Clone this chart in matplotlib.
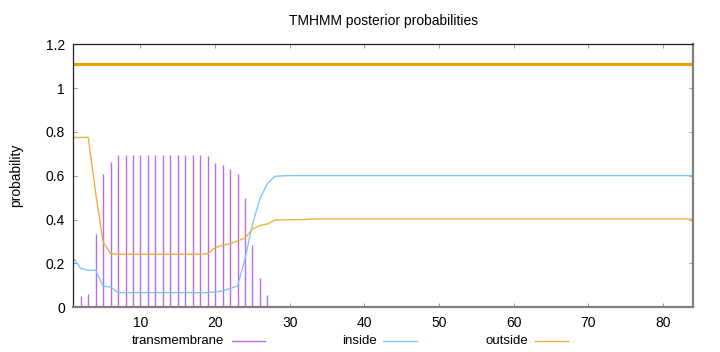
import matplotlib
matplotlib.use("Agg")
import matplotlib.pyplot as plt
from matplotlib.lines import Line2D
import numpy as np

plt.rcParams['font.family'] = ['Liberation Sans', 'DejaVu Sans']

positions = list(range(1, 85))

# transmembrane posterior probability (impulses), residues 1..27, then 0
tm_head = [0.0, 0.05, 0.062, 0.333, 0.607, 0.663, 0.693, 0.693, 0.693, 0.693,
           0.693, 0.693, 0.693, 0.693, 0.693, 0.693, 0.693, 0.693, 0.69, 0.66,
           0.648, 0.633, 0.606, 0.50, 0.283, 0.132, 0.058]
transmembrane = tm_head + [0.0] * (84 - len(tm_head))

inside_head = [0.225, 0.177, 0.169, 0.169, 0.096, 0.093, 0.067, 0.067, 0.067, 0.067,
               0.067, 0.067, 0.067, 0.067, 0.067, 0.067, 0.067, 0.067, 0.067, 0.070,
               0.075, 0.085, 0.098, 0.22, 0.38, 0.496, 0.565, 0.598, 0.600, 0.601]
inside = inside_head + [0.601] * (84 - len(inside_head))

outside_head = [0.775, 0.775, 0.775, 0.52, 0.298, 0.245, 0.242, 0.242, 0.242, 0.242,
                0.242, 0.242, 0.242, 0.242, 0.242, 0.242, 0.242, 0.242, 0.245, 0.272,
                0.283, 0.290, 0.303, 0.316, 0.357, 0.373, 0.380, 0.398, 0.399, 0.399,
                0.400, 0.401, 0.403]
outside = outside_head + [0.403] * (84 - len(outside_head))

# predicted topology line (outside for whole sequence)
topology_level = 1.11
topology_x = [1, 84]

xticks = [10, 20, 30, 40, 50, 60, 70, 80]
yticks = [0, 0.2, 0.4, 0.6, 0.8, 1.0, 1.2]
ytick_labels = ['0', '0.2', '0.4', '0.6', '0.8', '1', '1.2']

c_tm = '#BB6BEA'
c_in = '#80C8F0'
c_out = '#F0B040'
c_top = '#E8A000'

fs = 9.5

fig = plt.figure(figsize=(7.2, 3.52), dpi=100)
ax = fig.add_axes([73.3 / 720, 1 - 307.3 / 352, (693 - 73.3) / 720, (307.3 - 44.3) / 352])

ax.vlines(positions, 0, transmembrane, colors=c_tm, lw=1.0)
ax.plot(positions, inside, color=c_in, lw=1.0)
ax.plot(positions, outside, color=c_out, lw=1.0)
ax.plot(topology_x, [topology_level] * 2, color=c_top, lw=2.2, solid_capstyle='butt')

ax.set_xlim(1, 84)
ax.set_ylim(0, 1.2)
ax.set_xticks(xticks)
ax.set_xticklabels([str(t) for t in xticks])
ax.set_yticks(yticks)
ax.set_yticklabels(ytick_labels)
ax.tick_params(direction='in', length=3, width=0.6, color='#888888',
               top=True, right=True, labelsize=fs + 0.5, pad=6)
for s in ['left', 'top']:
    ax.spines[s].set_color('#222222')
    ax.spines[s].set_linewidth(0.9)
for s in ['bottom', 'right']:
    ax.spines[s].set_color('#808080')
    ax.spines[s].set_linewidth(1.6)

ax.set_title('TMHMM posterior probabilities', fontsize=10, pad=14)
ax.set_ylabel('probability', fontsize=fs + 0.5, labelpad=16)

# legend at bottom, text then sample line
ly = 1 - 341 / 352
entries = [('transmembrane', c_tm, 132.3, 231.7, 265),
           ('inside', c_in, 341.7, 383.3, 417),
           ('outside', c_out, 485, 535, 568)]
for label, col, tx, l0, l1 in entries:
    fig.text(tx / 720, ly, label, fontsize=fs, ha='left', va='center')
    fig.add_artist(Line2D([l0 / 720, l1 / 720], [ly, ly], color=col, lw=1.0,
                          transform=fig.transFigure))

fig.savefig('out.png', dpi=100)
